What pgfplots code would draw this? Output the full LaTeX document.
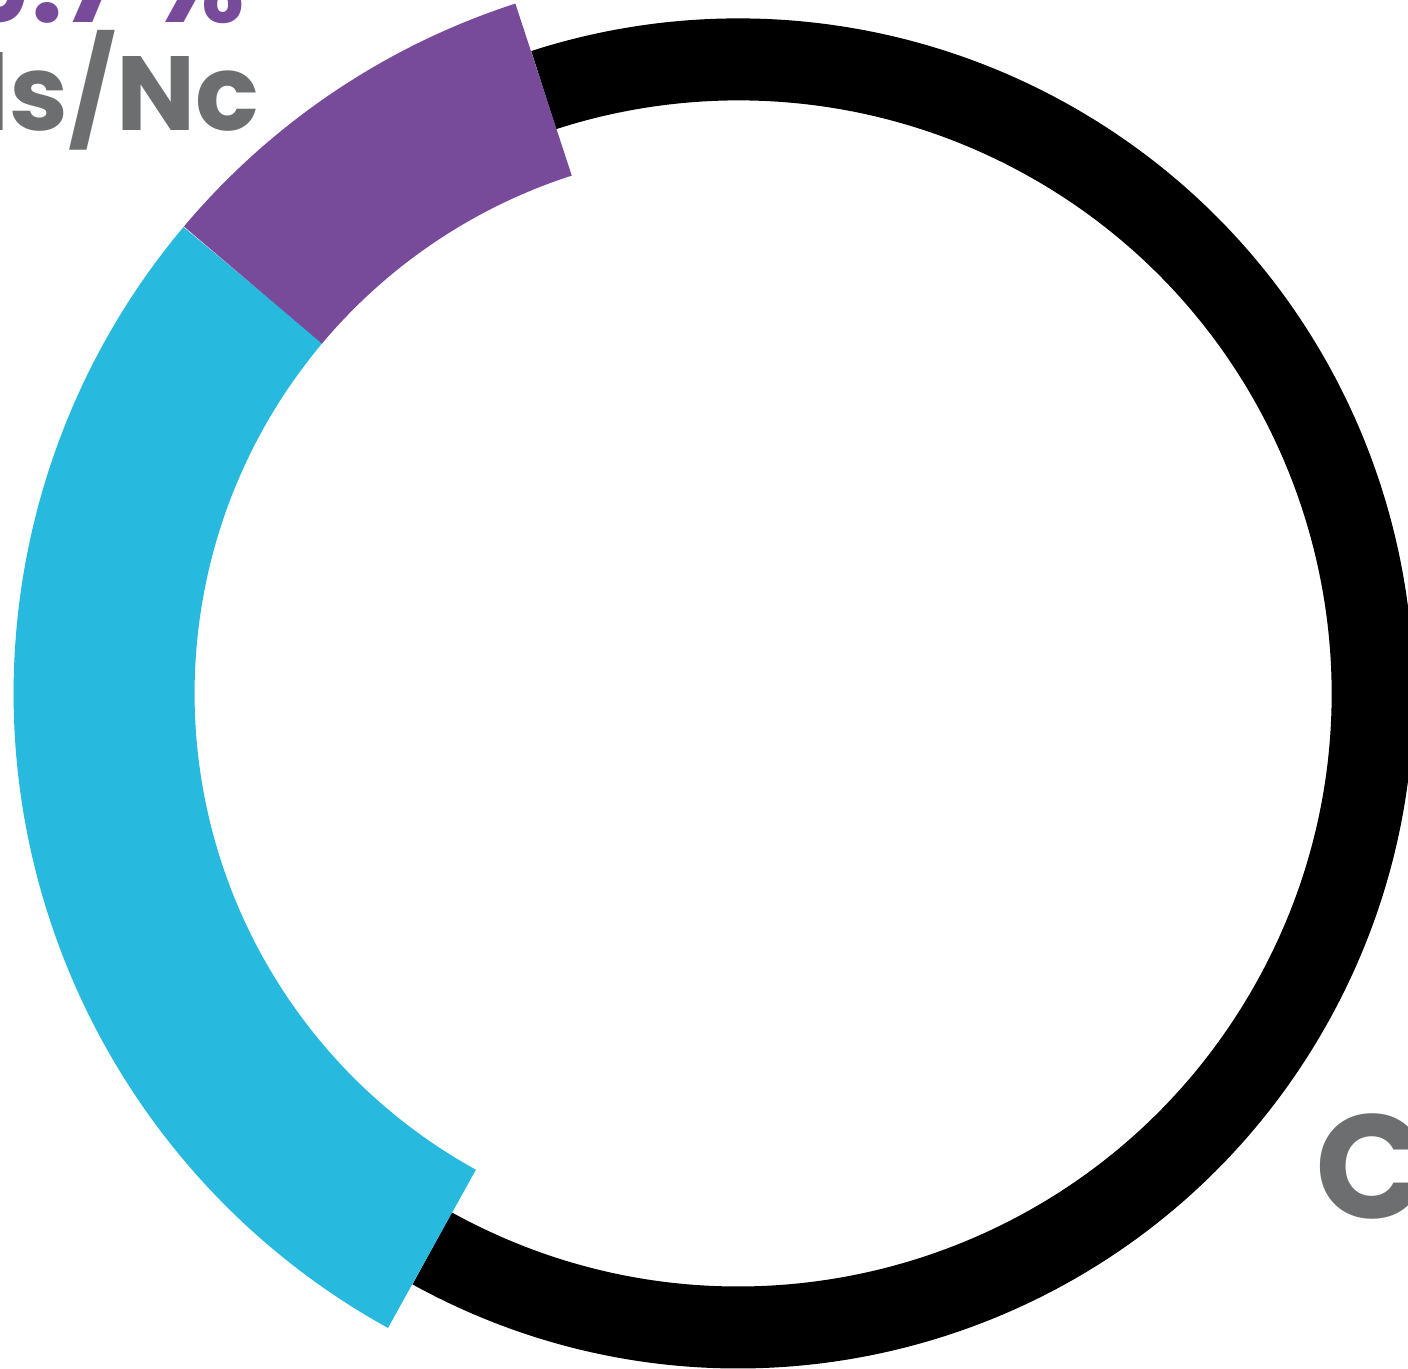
\documentclass[border=0pt]{standalone}
\usepackage{pgfplots}
\pgfplotsset{compat=1.18}
\usepackage{fontspec}
\setmainfont{Poppins}
\definecolor{purplec}{HTML}{784B9A}
\definecolor{cyanc}{HTML}{27B9DE}
\definecolor{grayc}{HTML}{6D6E70}
% shares (percent)
\def\vPurple{8.9}
\def\vCyan{28.1}
\def\vBlack{63.0}
\pgfmathsetmacro\aA{107.9}
\pgfmathsetmacro\aB{\aA+3.6*\vPurple}
\pgfmathsetmacro\aC{\aB+3.6*\vCyan}
\pgfmathsetmacro\aD{\aC+3.6*\vBlack}
\begin{document}
\begin{tikzpicture}
\begin{axis}[at={(0,0)}, anchor=south west, x=0.01cm, y=0.01cm,
  xmin=0, xmax=1408, ymin=0, ymax=1369, hide axis, clip=false]
\coordinate (c) at (axis cs:739,676);
\draw[black, line width=0.82cm, line cap=butt] (c) ++(\aC:6.34cm) arc[start angle=\aC, end angle=\aD, radius=6.34cm];
\draw[cyanc, line width=1.81cm, line cap=butt] (c) ++(\aB:6.345cm) arc[start angle=\aB, end angle=\aC, radius=6.345cm];
\draw[purplec, line width=1.81cm, line cap=butt] (c) ++(\aA:6.345cm) arc[start angle=\aA, end angle=\aB, radius=6.345cm];
\node[anchor=base east, inner sep=0pt, text=purplec, font=\fontsize{32}{36}\selectfont\bfseries] at (axis cs:246,1347) {9.7 \%};
\node[anchor=base east, inner sep=0pt, text=grayc, font=\fontsize{30}{36}\selectfont\bfseries] at (axis cs:260,1239) {Fuels/Nc};
\node[anchor=base west, inner sep=0pt, text=grayc, font=\fontsize{42}{48}\selectfont\bfseries] at (axis cs:1316,151) {Coal};
\end{axis}
\pgfresetboundingbox
\useasboundingbox (0,0) rectangle (14.08cm,13.69cm);
\end{tikzpicture}
\end{document}
